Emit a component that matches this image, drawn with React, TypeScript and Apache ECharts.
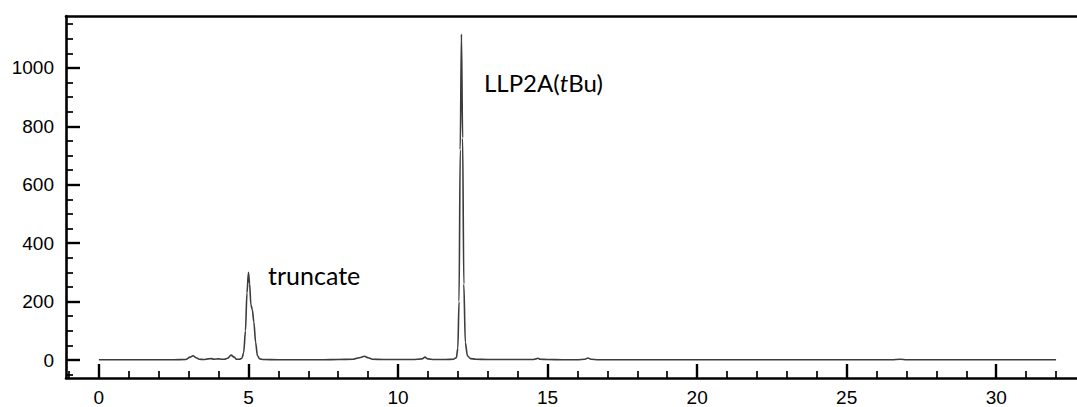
import React, { useEffect, useRef } from "react";
import * as echarts from "echarts";

// Chromatogram trace: retention time (min) and detector signal (mAU)
const retentionTime = [
  0.0, 0.5, 1.0, 1.5, 2.0, 2.5, 2.9, 3.05, 3.15, 3.25, 3.35, 3.5, 3.65, 3.75, 3.85, 4.0, 4.1, 4.2, 4.3,
  4.42, 4.52, 4.6, 4.7, 4.78, 4.84, 4.9, 4.95, 5.0, 5.04, 5.08, 5.13, 5.18, 5.24, 5.3, 5.38, 5.5, 6.0,
  6.5, 7.0, 7.5, 8.0, 8.5, 8.75, 8.88, 9.0, 9.15, 9.5, 10.0, 10.5, 10.8, 10.9, 11.0, 11.2, 11.6, 11.85,
  11.95, 12.0, 12.04, 12.08, 12.12, 12.16, 12.2, 12.25, 12.32, 12.42, 12.6, 13.0, 13.5, 14.0, 14.5,
  14.62, 14.68, 14.75, 15.0, 15.5, 16.0, 16.25, 16.35, 16.45, 16.7, 17.5, 20.0, 22.0, 24.0, 26.5, 26.8,
  27.0, 29.0, 32.0,
];
const absorbance = [
  1, 1, 1, 1, 1, 1, 2, 10, 15, 8, 3, 2, 4, 5, 3, 4, 3, 3, 6,
  17, 10, 3, 3, 6, 25, 100, 230, 300, 260, 190, 172, 130, 60, 15, 4, 2, 1,
  1, 1, 1, 2, 3, 9, 13, 8, 3, 2, 2, 2, 4, 10, 4, 2, 2, 3,
  8, 40, 200, 720, 1116, 760, 260, 60, 15, 5, 3, 2, 2, 2, 2,
  4, 6, 3, 2, 1, 1, 3, 7, 3, 1, 1, 1, 1, 1, 1, 3,
  1, 1, 1,
];

const xMajorTicks = [0, 5, 10, 15, 20, 25, 30];
const xMinorTicks = [-1, 1, 2, 3, 4, 6, 7, 8, 9, 11, 12, 13, 14, 16, 17, 18, 19, 21, 22, 23, 24, 26, 27, 28, 29, 31, 32];
const yMajorTicks = [0, 200, 400, 600, 800, 1000];
const yMinorTicks = [-50, 50, 100, 150, 250, 300, 350, 450, 500, 550, 650, 700, 750, 850, 900, 950, 1050, 1100, 1150];

const peakLabels = ["truncate", "LLP2A(tBu)"];

const X_MIN = -1.1;
const X_MAX = 32.7;
const Y_MIN = -61.4;
const Y_MAX = 1177.5;

export default function App() {
  const ref = useRef<HTMLDivElement>(null);

  useEffect(() => {
    if (!ref.current) return;
    const chart = echarts.init(ref.current, undefined, { renderer: "svg" });
    const data = retentionTime.map((t, i) => [t, absorbance[i]]);
    const labelFont = "Liberation Sans";
    const annFont = "Lato";
    const axisLineStyle = { color: "#000", width: 2.6 };
    const fmt = (v: number) => String(v);

    const baseX = { type: "value" as const, min: X_MIN, max: X_MAX, splitLine: { show: false } };
    const baseY = { type: "value" as const, min: Y_MIN, max: Y_MAX, splitLine: { show: false } };

    chart.setOption({
      animation: false,
      backgroundColor: "#fff",
      grid: { left: 66, top: 16, right: 0, bottom: 28, containLabel: false },
      xAxis: [
        {
          ...baseX,
          position: "bottom",
          axisLine: { show: true, onZero: false, lineStyle: axisLineStyle },
          axisTick: { show: true, inside: true, length: 14, customValues: xMajorTicks, lineStyle: { color: "#000", width: 2.4 } },
          axisLabel: { show: true, customValues: xMajorTicks, formatter: fmt, fontSize: 19, color: "#000", margin: 10, fontFamily: labelFont },
        },
        {
          ...baseX,
          position: "bottom",
          axisLine: { show: false, onZero: false },
          axisTick: { show: true, inside: true, length: 7, customValues: xMinorTicks, lineStyle: { color: "#000", width: 1.7 } },
          axisLabel: { show: false },
        },
        {
          ...baseX,
          position: "top",
          axisLine: { show: true, onZero: false, lineStyle: axisLineStyle },
          axisTick: { show: false },
          axisLabel: { show: false },
        },
      ],
      yAxis: [
        {
          ...baseY,
          position: "left",
          axisLine: { show: true, onZero: false, lineStyle: axisLineStyle },
          axisTick: { show: true, inside: true, length: 14, customValues: yMajorTicks, lineStyle: { color: "#000", width: 2.4 } },
          axisLabel: { show: true, customValues: yMajorTicks, formatter: fmt, fontSize: 19, color: "#000", margin: 12, fontFamily: labelFont },
        },
        {
          ...baseY,
          position: "left",
          axisLine: { show: false, onZero: false },
          axisTick: { show: true, inside: true, length: 7, customValues: yMinorTicks, lineStyle: { color: "#000", width: 1.7 } },
          axisLabel: { show: false },
        },
      ],
      series: [
        {
          type: "line",
          xAxisIndex: 0,
          yAxisIndex: 0,
          data,
          showSymbol: false,
          smooth: 0.3,
          smoothMonotone: "x",
          lineStyle: { color: "#3c3c3c", width: 1.6 },
          clip: true,
        },
      ],
      graphic: [
        {
          type: "text",
          x: 268,
          y: 275,
          style: { text: peakLabels[0], fontSize: 25, fontFamily: annFont, fill: "#000", verticalAlign: "middle", align: "left" },
        },
        {
          type: "text",
          x: 484,
          y: 82,
          style: {
            text: "{a|LLP2A(}{i|t}{a|Bu)}",
            fill: "#000",
            verticalAlign: "middle",
            align: "left",
            rich: {
              a: { fontSize: 24, fontFamily: annFont, fill: "#000" },
              i: { fontSize: 24, fontFamily: annFont, fontStyle: "italic", fill: "#000" },
            },
          },
        },
      ],
    });
    return () => chart.dispose();
  }, []);

  return <div ref={ref} style={{ position: "fixed", left: 0, top: 0, width: 1077, height: 407 }} />;
}
